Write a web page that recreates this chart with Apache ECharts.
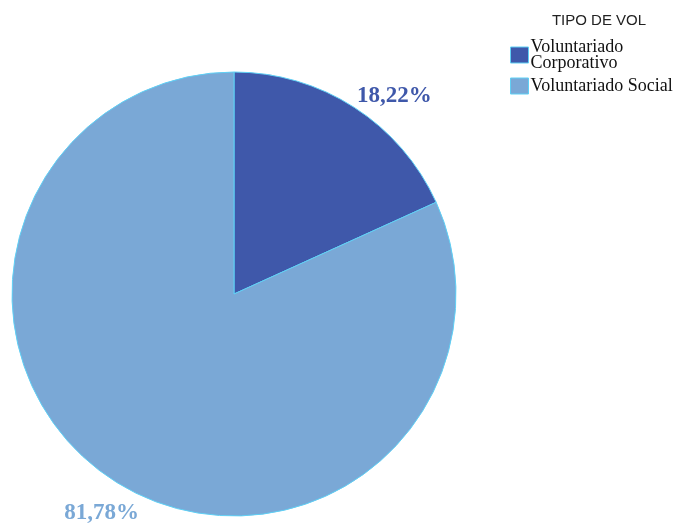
<!DOCTYPE html>
<html>
<head>
<meta charset="utf-8">
<script src="https://cdn.jsdelivr.net/npm/echarts@6/dist/echarts.min.js"></script>
<style>
  html, body { margin: 0; padding: 0; background: #fff; }
  #chart { width: 676px; height: 525px; }
</style>
</head>
<body>
<div id="chart"></div>
<script>
// tipos de voluntariado y su porcentaje
const categorias = ['Voluntariado\nCorporativo', 'Voluntariado Social']
const porcentajes = [18.22, 81.78]
const colores = ['#3f58aa', '#7aa8d6']
// desplazamiento de cada etiqueta respecto a la posicion por defecto
const ajusteEtiqueta = [[-13, 5], [41, 16]]

const chart = echarts.init(document.getElementById('chart'))

chart.setOption({
  animation: false,
  title: {
    text: 'TIPO DE VOL',
    left: 594,
    top: 8,
    textAlign: 'center',
    textStyle: {
      fontFamily: 'Liberation Sans, Arial',
      fontSize: 15,
      fontWeight: 'normal',
      color: '#222'
    }
  },
  legend: {
    orient: 'vertical',
    left: 510,
    top: 38,
    padding: 0,
    itemWidth: 18,
    itemHeight: 16,
    itemGap: 5,
    icon: 'rect',
    data: categorias,
    itemStyle: {
      borderColor: '#5fd0f5',
      borderWidth: 1
    },
    textStyle: {
      fontFamily: 'Liberation Serif, Times New Roman, serif',
      fontSize: 18,
      color: '#111',
      lineHeight: 16,
      padding: [0, 0, 0, -3]
    }
  },
  series: [{
    type: 'pie',
    center: [234, 294],
    radius: 222,
    startAngle: 90,
    clockwise: true,
    data: categorias.map((c, i) => ({
      name: c,
      value: porcentajes[i],
      itemStyle: { color: colores[i] },
      label: { color: colores[i] }
    })),
    itemStyle: {
      borderColor: '#5fd0f5',
      borderWidth: 1
    },
    label: {
      show: true,
      position: 'outside',
      formatter: p => p.value.toFixed(2).replace('.', ',') + '%',
      fontFamily: 'Liberation Serif, Times New Roman, serif',
      fontWeight: 'bold',
      fontSize: 23
    },
    labelLine: { show: false, length: 20, length2: 0 },
    labelLayout: p => ({ dx: ajusteEtiqueta[p.dataIndex][0], dy: ajusteEtiqueta[p.dataIndex][1] }),
    emphasis: { disabled: true }
  }]
})
</script>
</body>
</html>
